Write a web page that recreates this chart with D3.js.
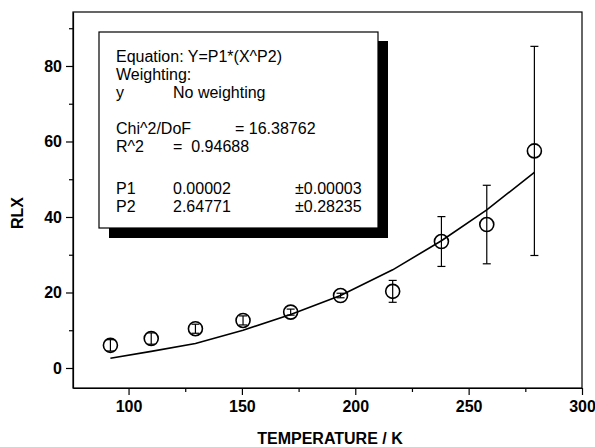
<!DOCTYPE html>
<meta charset="utf-8">
<style>
body { margin: 0; background: #fff; }
svg { font-family: 'Liberation Sans', Arial, sans-serif; }
.tick text { font-size: 16px; font-weight: bold; }
.box text { font-size: 16px; }
</style>
<svg id="chart" width="595" height="447"></svg>
<script src="https://cdn.jsdelivr.net/npm/d3@7"></script>
<script>

// measured points
var temps = [92, 110, 129.5, 150.5, 171.5, 193.5, 216.5, 238, 258, 279];
var rlx   = [6.0, 7.8, 10.4, 12.6, 14.8, 19.2, 20.3, 33.5, 38.0, 57.5];
var errs  = [1.5, 1.5, 1.2, 1.2, 0.8, 0.6, 2.9, 6.6, 10.4, 27.7];

// fit curve read at the same temperatures
var fitY = [2.6, 4.4, 6.5, 10.0, 14.2, 19.2, 26.0, 33.7, 41.9, 51.8];

var xTicks = [100, 150, 200, 250, 300];
var yTicks = [0, 20, 40, 60, 80];

var boxLines = [
  ["Equation: Y=P1*(X^P2)", "", ""],
  ["Weighting:", "", ""],
  ["y", "No weighting", ""],
  ["", "", ""],
  ["Chi^2/DoF", "", "= 16.38762"],
  ["R^2", "=  0.94688", ""],
  ["", "", ""],
  ["P1", "0.00002", "±0.00003"],
  ["P2", "2.64771", "±0.28235"]
];

var svg = d3.select("#chart");
var pLeft = 73, pRight = 582, pTop = 12, pBottom = 388;

var x = d3.scaleLinear().domain([75.5, 300]).range([pLeft, pRight]);
var y = d3.scaleLinear().domain([-5.3, 94.3]).range([pBottom, pTop]);

// frame
svg.append("rect")
    .attr("x", pLeft).attr("y", pTop)
    .attr("width", pRight - pLeft).attr("height", pBottom - pTop)
    .attr("fill", "none").attr("stroke", "#000").attr("stroke-width", 1.2);

// x axis
svg.append("g")
    .attr("transform", "translate(0," + pBottom + ")")
    .call(d3.axisBottom(x).tickValues(xTicks).tickSize(7).tickPadding(6).tickSizeOuter(0));
svg.append("g")
    .attr("transform", "translate(0," + pBottom + ")")
    .call(d3.axisBottom(x).tickValues([125, 175, 225, 275]).tickSize(4).tickFormat("").tickSizeOuter(0))
    .select(".domain").remove();

// y axis
svg.append("g")
    .attr("transform", "translate(" + pLeft + ",0)")
    .call(d3.axisLeft(y).tickValues(yTicks).tickSize(7).tickPadding(4).tickSizeOuter(0));
svg.append("g")
    .attr("transform", "translate(" + pLeft + ",0)")
    .call(d3.axisLeft(y).tickValues([10, 30, 50, 70, 90]).tickSize(4).tickFormat("").tickSizeOuter(0))
    .select(".domain").remove();

svg.selectAll(".domain").attr("stroke-width", 1.2);
svg.selectAll(".tick line").attr("stroke-width", 1.2);

// axis titles
svg.append("text")
    .attr("x", 330).attr("y", 444)
    .attr("text-anchor", "middle")
    .style("font-size", "16px").style("font-weight", "bold")
    .text("TEMPERATURE / K");
svg.append("text")
    .attr("transform", "translate(23,213) rotate(-90)")
    .attr("text-anchor", "middle")
    .style("font-size", "16px").style("font-weight", "bold")
    .text("RLX");

// results box with shadow
var box = svg.append("g").attr("class", "box");
box.append("rect")
    .attr("x", 109).attr("y", 41).attr("width", 279).attr("height", 197)
    .attr("fill", "#000");
box.append("rect")
    .attr("x", 99).attr("y", 32).attr("width", 279).attr("height", 196)
    .attr("fill", "#fff").attr("stroke", "#000").attr("stroke-width", 1.2);

var colX = [116, 173, 235];
boxLines.forEach(function(row, i) {
  var by = 62 + i * 18;
  if (i >= 7) by += 6;
  row.forEach(function(t, j) {
    if (!t) return;
    var cx = colX[j];
    if (j === 2 && i >= 7) cx = 295;
    box.append("text").attr("x", cx).attr("y", by)
        .attr("xml:space", "preserve").style("white-space", "pre")
        .text(t);
  });
});

// fit curve
var line = d3.line()
    .x(function(d, i) { return x(temps[i]); })
    .y(function(d) { return y(d); });
svg.append("path")
    .datum(fitY)
    .attr("d", line)
    .attr("fill", "none").attr("stroke", "#000").attr("stroke-width", 1.6);

// error bars
var eb = svg.append("g").selectAll("g").data(temps).enter().append("g");
eb.append("line")
    .attr("x1", function(d) { return x(d); }).attr("x2", function(d) { return x(d); })
    .attr("y1", function(d, i) { return y(rlx[i] + errs[i]); })
    .attr("y2", function(d, i) { return y(rlx[i] - errs[i]); })
    .attr("stroke", "#000").attr("stroke-width", 1.2);
eb.each(function(d, i) {
  var g = d3.select(this);
  [rlx[i] + errs[i], rlx[i] - errs[i]].forEach(function(v) {
    g.append("line")
        .attr("x1", x(d) - 4).attr("x2", x(d) + 4)
        .attr("y1", y(v)).attr("y2", y(v))
        .attr("stroke", "#000").attr("stroke-width", 1.2);
  });
});

// markers
svg.append("g").selectAll("circle").data(temps).enter().append("circle")
    .attr("cx", function(d) { return x(d); })
    .attr("cy", function(d, i) { return y(rlx[i]); })
    .attr("r", 7)
    .attr("fill", "none").attr("stroke", "#000").attr("stroke-width", 1.6);

</script>
